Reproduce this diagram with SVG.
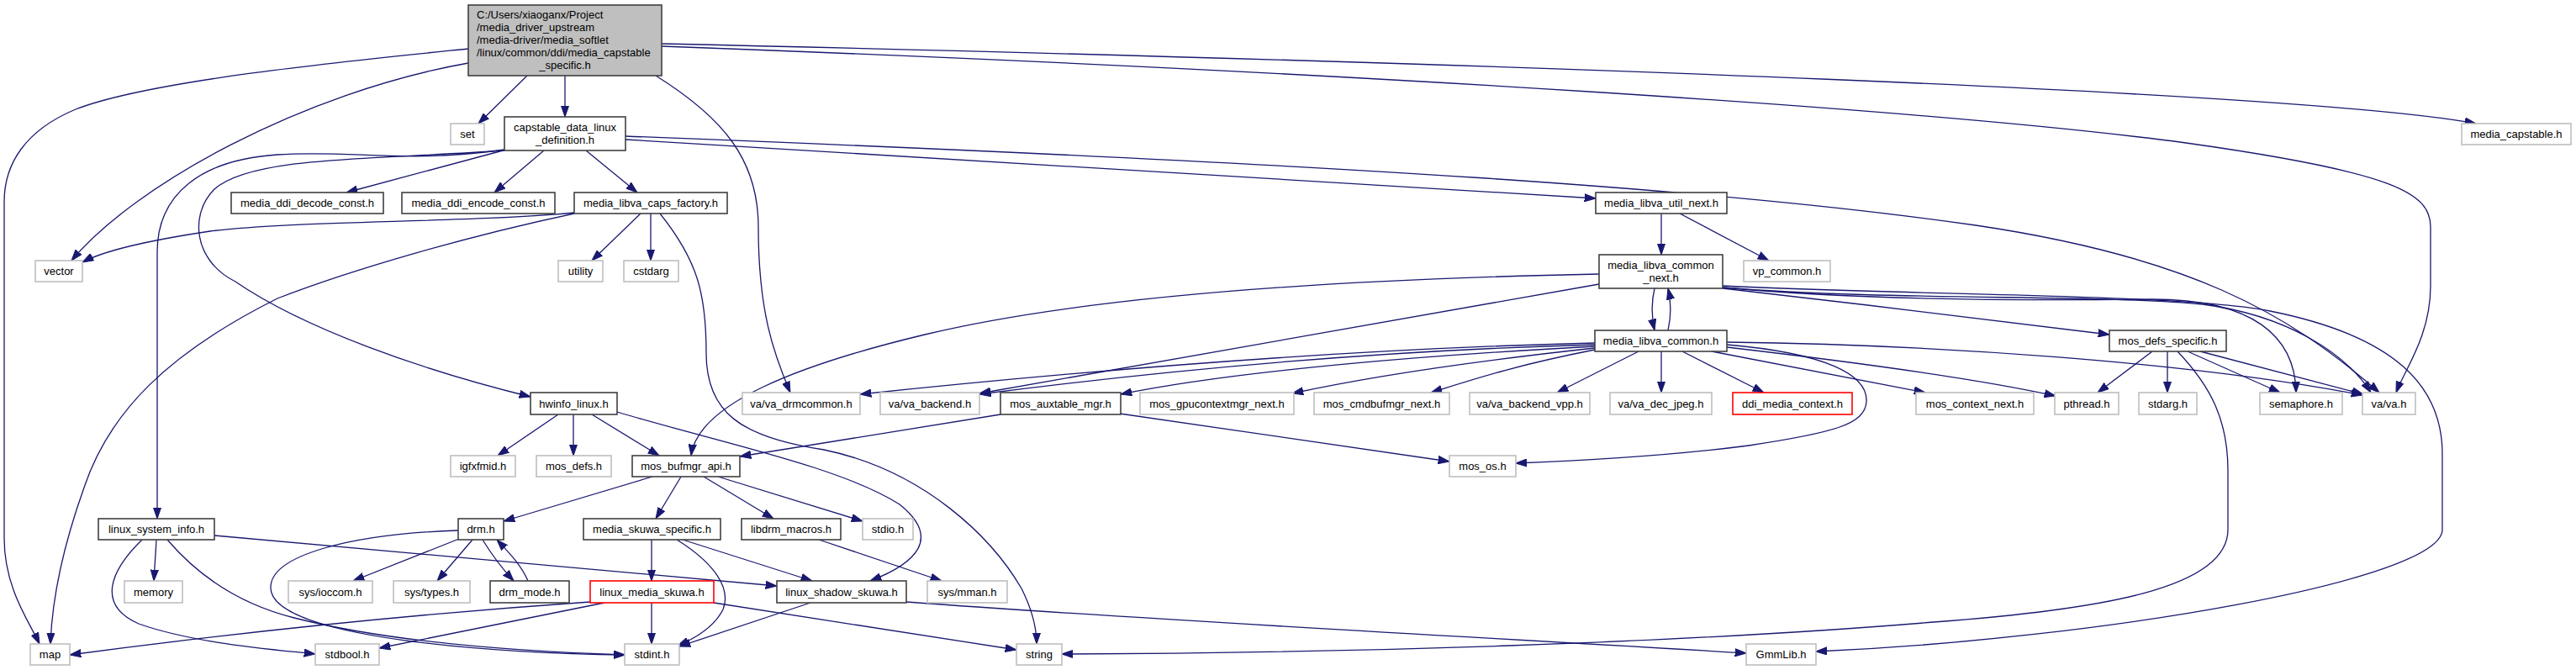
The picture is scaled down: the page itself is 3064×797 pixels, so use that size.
<svg xmlns="http://www.w3.org/2000/svg" width="3064" height="797" viewBox="0 0 3064 797">
<style>
rect{stroke-width:1.6}
.n rect{fill:#fff;stroke:#404040}
.g rect{fill:#fff;stroke:#bfbfbf}
.r rect{fill:#fff;stroke:#ff0000}
.root rect{fill:#bfbfbf;stroke:#404040}
text{font-family:"Liberation Sans",Arial,sans-serif;font-size:13px;fill:#000;text-anchor:middle}
text.l{text-anchor:start}
#edges path{fill:none;stroke:#191970;stroke-width:1.3;marker-end:url(#a)}
</style>
<defs>
<marker id="a" viewBox="0 0 14 10" markerWidth="14" markerHeight="10" refX="13.3" refY="5" orient="auto" markerUnits="userSpaceOnUse">
<path d="M0,0.4 L13.3,5 L0,9.6 z" fill="#191970" stroke="#191970" stroke-width="1"/>
</marker>
</defs>
<rect width="3064" height="797" fill="#fff"/>
<g id="edges">
<path d="M627,90 L569,147"/>
<path d="M672,90 L672,139"/>
<path d="M557,75 C360,110 160,220 85,310"/>
<path d="M557,58 C420,72 180,95 90,130 C30,155 5,195 5,240 L5,640 C5,700 35,740 47,766"/>
<path d="M780,90 C860,140 902,190 902,270 C902,370 920,420 940,467"/>
<path d="M787,52 C1800,75 2750,110 2945,147"/>
<path d="M787,55 C1600,85 2300,130 2600,170 C2850,205 2891,230 2891,270 L2891,340 C2891,400 2860,440 2850,467"/>
<path d="M602,178 L412,229"/>
<path d="M647,179 L588,229"/>
<path d="M697,179 L758,229"/>
<path d="M744,166 L1898,236"/>
<path d="M744,162 C1600,195 2050,225 2350,268 C2600,305 2720,370 2830,467"/>
<path d="M600,178 C480,195 420,178 330,184 C240,190 187,230 187,300 L187,617"/>
<path d="M600,179 C450,190 300,185 255,225 C225,255 230,310 280,335 C360,390 500,440 631,472"/>
<path d="M683,253 C560,265 350,262 250,275 C170,287 120,300 98,312"/>
<path d="M683,254 C560,280 420,320 330,355 C200,420 130,490 100,580 C75,650 62,710 60,766"/>
<path d="M762,254 L704,310"/>
<path d="M774,254 L774,310"/>
<path d="M785,254 C830,310 840,350 840,420 C840,490 880,520 980,535 C1100,560 1180,640 1215,700 C1230,730 1233,750 1233,766"/>
<path d="M1976,254 L1976,303"/>
<path d="M1998,254 L2104,310"/>
<path d="M1968,343 C1964,360 1964,375 1968,393"/>
<path d="M1984,393 C1988,375 1988,360 1984,343"/>
<path d="M1902,326 C1600,332 1300,350 1100,398 C950,434 830,480 822,542"/>
<path d="M1902,338 L1165,468"/>
<path d="M1897,408 C1600,415 1300,440 1023,469"/>
<path d="M1897,410 C1600,418 1350,445 1165,469"/>
<path d="M1897,412 C1650,425 1450,445 1333,469"/>
<path d="M1897,414 C1750,430 1620,450 1537,468"/>
<path d="M1897,416 C1800,435 1750,452 1702,467"/>
<path d="M1949,418 L1852,467"/>
<path d="M1976,418 L1976,467"/>
<path d="M2001,418 L2098,467"/>
<path d="M2036,418 L2290,467"/>
<path d="M2054,413 C2200,430 2350,450 2445,471"/>
<path d="M2054,407 C2300,410 2600,430 2810,470"/>
<path d="M2054,410 C2170,420 2222,445 2220,478 C2218,505 2180,515 2080,530 C1980,543 1880,548 1803,551"/>
<path d="M2049,343 C2200,360 2380,382 2509,398"/>
<path d="M2049,342 C2200,356 2400,358 2560,356 C2680,356 2730,400 2731,467"/>
<path d="M2049,342 C2250,358 2500,350 2620,362 C2720,375 2790,420 2820,467"/>
<path d="M2049,340 C2300,352 2600,350 2700,370 C2850,400 2905,460 2905,540 L2905,630 C2905,690 2500,760 2160,775"/>
<path d="M2560,418 L2495,467"/>
<path d="M2578,418 L2578,467"/>
<path d="M2602,418 L2712,467"/>
<path d="M2617,418 L2811,469"/>
<path d="M2590,418 C2630,460 2650,500 2650,560 L2650,630 C2650,700 2500,725 2300,740 C2000,765 1600,777 1263,778"/>
<path d="M664,493 L592,542"/>
<path d="M682,493 L682,542"/>
<path d="M704,493 L784,542"/>
<path d="M734,490 C850,525 1000,555 1070,600 C1120,640 1090,670 1035,691"/>
<path d="M776,567 L599,620"/>
<path d="M810,567 L780,617"/>
<path d="M837,567 L920,617"/>
<path d="M854,567 L1026,620"/>
<path d="M1190,493 L880,543"/>
<path d="M1332,492 L1724,549"/>
<path d="M546,641 L420,691"/>
<path d="M562,642 L520,691"/>
<path d="M574,642 C585,660 598,677 611,691"/>
<path d="M628,691 C620,672 605,657 591,642"/>
<path d="M545,631 C420,635 320,660 322,700 C325,760 600,778 743,779"/>
<path d="M199,642 C240,690 290,720 350,735 C480,768 650,776 743,779"/>
<path d="M186,642 L183,691"/>
<path d="M169,642 C130,680 115,720 165,742 C230,765 320,772 375,778"/>
<path d="M255,637 L924,697"/>
<path d="M775,642 L775,691"/>
<path d="M812,642 L966,691"/>
<path d="M805,642 C850,670 870,700 860,725 C850,745 830,758 806,768"/>
<path d="M702,716 C500,730 300,750 83,779"/>
<path d="M719,717 L451,771"/>
<path d="M775,717 L775,766"/>
<path d="M849,717 L1209,773"/>
<path d="M964,717 L808,769"/>
<path d="M1078,716 C1400,740 1800,760 2077,777"/>
<path d="M974,642 L1120,691"/>
</g>
<g id="root" class="root"><rect x="557" y="6" width="230" height="84"/>
<text class="l" x="567" y="22">C:/Users/xiaoganx/Project</text>
<text class="l" x="567" y="37">/media_driver_upstream</text>
<text class="l" x="567" y="52">/media-driver/media_softlet</text>
<text class="l" x="567" y="67">/linux/common/ddi/media_capstable</text>
<text x="672" y="82">_specific.h</text></g>
<g id="set" class="g"><rect x="536" y="147" width="40" height="25"/><text x="556" y="164">set</text></g>
<g id="capstable_data_linux_definition" class="n"><rect x="600" y="139" width="144" height="40"/><text x="672" y="156">capstable_data_linux</text><text x="672" y="171">_definition.h</text></g>
<g id="media_capstable" class="g"><rect x="2928" y="147" width="130" height="25"/><text x="2993" y="164">media_capstable.h</text></g>
<g id="media_ddi_decode_const" class="n"><rect x="275" y="229" width="181" height="25"/><text x="365.5" y="246">media_ddi_decode_const.h</text></g>
<g id="media_ddi_encode_const" class="n"><rect x="478" y="229" width="182" height="25"/><text x="569" y="246">media_ddi_encode_const.h</text></g>
<g id="media_libva_caps_factory" class="n"><rect x="683" y="229" width="182" height="25"/><text x="774" y="246">media_libva_caps_factory.h</text></g>
<g id="media_libva_util_next" class="n"><rect x="1898" y="229" width="156" height="25"/><text x="1976" y="246">media_libva_util_next.h</text></g>
<g id="vector" class="g"><rect x="42" y="310" width="56" height="25"/><text x="70" y="327">vector</text></g>
<g id="utility" class="g"><rect x="664" y="310" width="53" height="25"/><text x="690.5" y="327">utility</text></g>
<g id="cstdarg" class="g"><rect x="742" y="310" width="65" height="25"/><text x="774.5" y="327">cstdarg</text></g>
<g id="media_libva_common_next" class="n"><rect x="1902" y="303" width="147" height="40"/><text x="1975.5" y="319.5">media_libva_common</text><text x="1975.5" y="334.5">_next.h</text></g>
<g id="vp_common" class="g"><rect x="2074" y="310" width="103" height="25"/><text x="2125.5" y="327">vp_common.h</text></g>
<g id="media_libva_common" class="n"><rect x="1897" y="393" width="157" height="25"/><text x="1975.5" y="410">media_libva_common.h</text></g>
<g id="mos_defs_specific" class="n"><rect x="2509" y="393" width="139" height="25"/><text x="2578.5" y="410">mos_defs_specific.h</text></g>
<g id="hwinfo_linux" class="n"><rect x="631" y="467" width="103" height="26"/><text x="682.5" y="484.5">hwinfo_linux.h</text></g>
<g id="va_drmcommon" class="g"><rect x="883" y="467" width="140" height="26"/><text x="953" y="484.5">va/va_drmcommon.h</text></g>
<g id="va_backend" class="g"><rect x="1047" y="467" width="118" height="26"/><text x="1106" y="484.5">va/va_backend.h</text></g>
<g id="mos_auxtable_mgr" class="n"><rect x="1190" y="467" width="143" height="26"/><text x="1261.5" y="484.5">mos_auxtable_mgr.h</text></g>
<g id="mos_gpucontextmgr_next" class="g"><rect x="1356" y="467" width="183" height="26"/><text x="1447.5" y="484.5">mos_gpucontextmgr_next.h</text></g>
<g id="mos_cmdbufmgr_next" class="g"><rect x="1563" y="467" width="161" height="26"/><text x="1643.5" y="484.5">mos_cmdbufmgr_next.h</text></g>
<g id="va_backend_vpp" class="g"><rect x="1748" y="467" width="143" height="26"/><text x="1819.5" y="484.5">va/va_backend_vpp.h</text></g>
<g id="va_dec_jpeg" class="g"><rect x="1915" y="467" width="121" height="26"/><text x="1975.5" y="484.5">va/va_dec_jpeg.h</text></g>
<g id="ddi_media_context" class="r"><rect x="2061" y="467" width="142" height="26"/><text x="2132" y="484.5">ddi_media_context.h</text></g>
<g id="mos_context_next" class="g"><rect x="2279" y="467" width="140" height="26"/><text x="2349" y="484.5">mos_context_next.h</text></g>
<g id="pthread" class="g"><rect x="2444" y="467" width="76" height="26"/><text x="2482" y="484.5">pthread.h</text></g>
<g id="stdarg" class="g"><rect x="2544" y="467" width="69" height="26"/><text x="2578.5" y="484.5">stdarg.h</text></g>
<g id="semaphore" class="g"><rect x="2688" y="467" width="98" height="26"/><text x="2737" y="484.5">semaphore.h</text></g>
<g id="va_va" class="g"><rect x="2810" y="467" width="63" height="26"/><text x="2841.5" y="484.5">va/va.h</text></g>
<g id="igfxfmid" class="g"><rect x="536" y="542" width="77" height="25"/><text x="574.5" y="559">igfxfmid.h</text></g>
<g id="mos_defs" class="g"><rect x="638" y="542" width="89" height="25"/><text x="682.5" y="559">mos_defs.h</text></g>
<g id="mos_bufmgr_api" class="n"><rect x="752" y="542" width="128" height="25"/><text x="816" y="559">mos_bufmgr_api.h</text></g>
<g id="mos_os" class="g"><rect x="1724" y="542" width="79" height="25"/><text x="1763.5" y="559">mos_os.h</text></g>
<g id="linux_system_info" class="n"><rect x="117" y="617" width="138" height="25"/><text x="186" y="634">linux_system_info.h</text></g>
<g id="drm" class="n"><rect x="545" y="617" width="54" height="25"/><text x="572" y="634">drm.h</text></g>
<g id="media_skuwa_specific" class="n"><rect x="694" y="617" width="163" height="25"/><text x="775.5" y="634">media_skuwa_specific.h</text></g>
<g id="libdrm_macros" class="n"><rect x="882" y="617" width="118" height="25"/><text x="941" y="634">libdrm_macros.h</text></g>
<g id="stdio" class="g"><rect x="1026" y="617" width="60" height="25"/><text x="1056" y="634">stdio.h</text></g>
<g id="memory" class="g"><rect x="148" y="691" width="69" height="26"/><text x="182.5" y="708.5">memory</text></g>
<g id="sys_ioccom" class="g"><rect x="343" y="691" width="100" height="26"/><text x="393" y="708.5">sys/ioccom.h</text></g>
<g id="sys_types" class="g"><rect x="468" y="691" width="91" height="26"/><text x="513.5" y="708.5">sys/types.h</text></g>
<g id="drm_mode" class="n"><rect x="583" y="691" width="94" height="26"/><text x="630" y="708.5">drm_mode.h</text></g>
<g id="linux_media_skuwa" class="r"><rect x="702" y="691" width="147" height="26"/><text x="775.5" y="708.5">linux_media_skuwa.h</text></g>
<g id="linux_shadow_skuwa" class="n"><rect x="924" y="691" width="154" height="26"/><text x="1001" y="708.5">linux_shadow_skuwa.h</text></g>
<g id="sys_mman" class="g"><rect x="1103" y="691" width="95" height="26"/><text x="1150.5" y="708.5">sys/mman.h</text></g>
<g id="map" class="g"><rect x="36" y="766" width="47" height="25"/><text x="59.5" y="783">map</text></g>
<g id="stdbool" class="g"><rect x="375" y="766" width="76" height="25"/><text x="413" y="783">stdbool.h</text></g>
<g id="stdint" class="g"><rect x="743" y="766" width="65" height="25"/><text x="775.5" y="783">stdint.h</text></g>
<g id="string" class="g"><rect x="1209" y="766" width="54" height="25"/><text x="1236" y="783">string</text></g>
<g id="GmmLib" class="g"><rect x="2077" y="766" width="83" height="25"/><text x="2118.5" y="783">GmmLib.h</text></g>
</svg>
